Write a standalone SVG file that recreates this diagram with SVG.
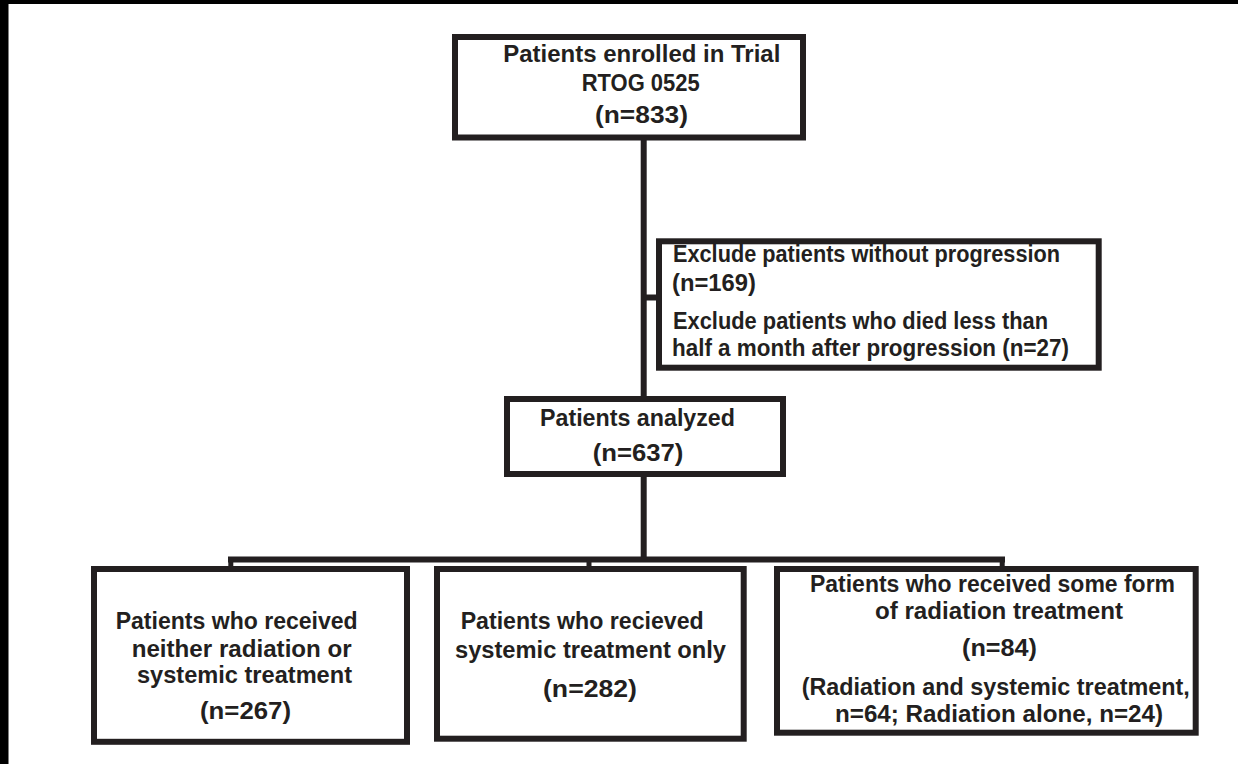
<svg xmlns="http://www.w3.org/2000/svg" width="1238" height="764" viewBox="0 0 1238 764">
<style>
.box{fill:#fff;stroke:#231f20;stroke-width:6}
.ln{fill:none;stroke:#231f20;stroke-width:6}
.stub{fill:none;stroke:#231f20;stroke-width:5}
text{font-family:"Liberation Sans Narrow","Liberation Sans",Arial,sans-serif;font-size:23px;font-weight:bold;fill:#231f20}
</style>
<rect x="0" y="0" width="1238" height="764" fill="#fff"/>
<rect x="0" y="0" width="1238" height="4" fill="#000"/>
<rect x="0" y="0" width="8.5" height="764" fill="#000"/>
<g id="connectors">
<line class="ln" x1="643.7" y1="138" x2="643.7" y2="398"/>
<line class="ln" x1="643.7" y1="297.5" x2="658" y2="297.5"/>
<line class="ln" x1="643.7" y1="475" x2="643.7" y2="560"/>
<line class="ln" x1="228" y1="559.5" x2="1005" y2="559.5"/>
<line class="stub" x1="230.8" y1="559" x2="230.8" y2="569"/>
<line class="stub" x1="589" y1="559" x2="589" y2="569"/>
<line class="stub" x1="1002.2" y1="559" x2="1002.2" y2="569"/>
</g>
<g id="enrolled">
<rect class="box" x="455" y="37" width="348" height="100.5"/>
<text x="503.3" y="61.5" textLength="277" lengthAdjust="spacingAndGlyphs">Patients enrolled in Trial</text>
<text x="581.7" y="91" textLength="118" lengthAdjust="spacingAndGlyphs">RTOG 0525</text>
<text x="595" y="123" textLength="93" lengthAdjust="spacingAndGlyphs">(n=833)</text>
</g>
<g id="excluded">
<rect class="box" x="659" y="241.3" width="439.7" height="126.4"/>
<text x="673" y="262" textLength="387" lengthAdjust="spacingAndGlyphs">Exclude patients without progression</text>
<text x="672" y="291" textLength="84" lengthAdjust="spacingAndGlyphs">(n=169)</text>
<text x="673" y="329" textLength="375" lengthAdjust="spacingAndGlyphs">Exclude patients who died less than</text>
<text x="672" y="356" textLength="397" lengthAdjust="spacingAndGlyphs">half a month after progression (n=27)</text>
</g>
<g id="analyzed">
<rect class="box" x="507" y="399" width="276" height="75"/>
<text x="540" y="425.5" textLength="195" lengthAdjust="spacingAndGlyphs">Patients analyzed</text>
<text x="592.7" y="461" textLength="90.6" lengthAdjust="spacingAndGlyphs">(n=637)</text>
</g>
<g id="neither">
<rect class="box" x="94" y="569" width="313" height="172.8"/>
<text x="115.7" y="629" textLength="242" lengthAdjust="spacingAndGlyphs">Patients who received</text>
<text x="131.7" y="656.5" textLength="220" lengthAdjust="spacingAndGlyphs">neither radiation or</text>
<text x="137" y="683" textLength="215" lengthAdjust="spacingAndGlyphs">systemic treatment</text>
<text x="200" y="719" textLength="91" lengthAdjust="spacingAndGlyphs">(n=267)</text>
</g>
<g id="systemic">
<rect class="box" x="437" y="569" width="306.7" height="169.7"/>
<text x="460.7" y="629" textLength="243" lengthAdjust="spacingAndGlyphs">Patients who recieved</text>
<text x="455" y="658" textLength="271" lengthAdjust="spacingAndGlyphs">systemic treatment only</text>
<text x="543" y="697" textLength="94" lengthAdjust="spacingAndGlyphs">(n=282)</text>
</g>
<g id="radiation">
<rect class="box" x="777" y="569" width="418.7" height="163.7"/>
<text x="810" y="592" textLength="365" lengthAdjust="spacingAndGlyphs">Patients who received some form</text>
<text x="875" y="619" textLength="248" lengthAdjust="spacingAndGlyphs">of radiation treatment</text>
<text x="962" y="656" textLength="75" lengthAdjust="spacingAndGlyphs">(n=84)</text>
<text x="801.7" y="695" textLength="388" lengthAdjust="spacingAndGlyphs">(Radiation and systemic treatment,</text>
<text x="835" y="721.5" textLength="328" lengthAdjust="spacingAndGlyphs">n=64; Radiation alone, n=24)</text>
</g>
</svg>
